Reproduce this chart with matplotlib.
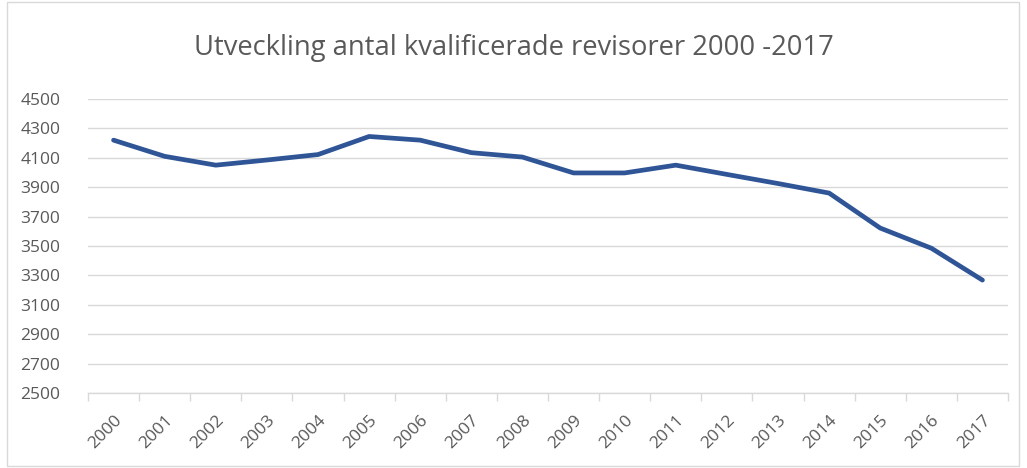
import matplotlib.pyplot as plt
from matplotlib.patches import Rectangle

years = [str(y) for y in range(2000, 2018)]
revisorer = [4220, 4110, 4050, 4085, 4122, 4245, 4220, 4135, 4105, 3997,
             3997, 4050, 3987, 3925, 3860, 3622, 3485, 3268]
yticks = list(range(2500, 4501, 200))

plt.rcParams['font.family'] = ['Open Sans', 'DejaVu Sans']

fig = plt.figure(figsize=(10.27, 4.68), dpi=100)
ax = fig.add_axes([88 / 1027, 1 - 393 / 468, 920 / 1027, 294 / 468])

# light frame round the whole chart
fig.patches.append(Rectangle((7 / 1027, 2 / 468), 1012 / 1027, 464 / 468,
                             transform=fig.transFigure, fill=False,
                             edgecolor='#D9D9D9', linewidth=1))

x = list(range(len(years)))
ax.plot(x, revisorer, color='#2F5597', linewidth=3.4, solid_capstyle='round',
        solid_joinstyle='round', zorder=3)

ax.set_ylim(2500, 4500)
ax.set_yticks(yticks)
ax.set_yticklabels([str(v) for v in yticks])
ax.set_xlim(-0.5, len(years) - 0.5)
ax.set_xticks(x)
ax.set_xticklabels(years, rotation=45, ha='right', rotation_mode='anchor')
ax.set_xticks([i - 0.5 for i in range(len(years) + 1)], minor=True)

ax.grid(axis='y', color='#D9D9D9', linewidth=1)
ax.set_axisbelow(True)
for s in ['top', 'right', 'left']:
    ax.spines[s].set_visible(False)
ax.spines['bottom'].set_color('#D9D9D9')
ax.spines['bottom'].set_linewidth(1)

ax.tick_params(axis='y', length=0, pad=20, labelsize=12.5, labelcolor='#595959')
ax.tick_params(axis='x', which='major', length=0, pad=14, labelsize=12.5,
               labelcolor='#595959')
ax.tick_params(axis='x', which='minor', length=6, color='#D9D9D9', width=1)

fig.text(0.5, 1 - 48 / 468, 'Utveckling antal kvalificerade revisorer 2000 -2017',
         ha='center', va='center', fontsize=19.7, color='#595959')

fig.savefig('out.png', dpi=100)
